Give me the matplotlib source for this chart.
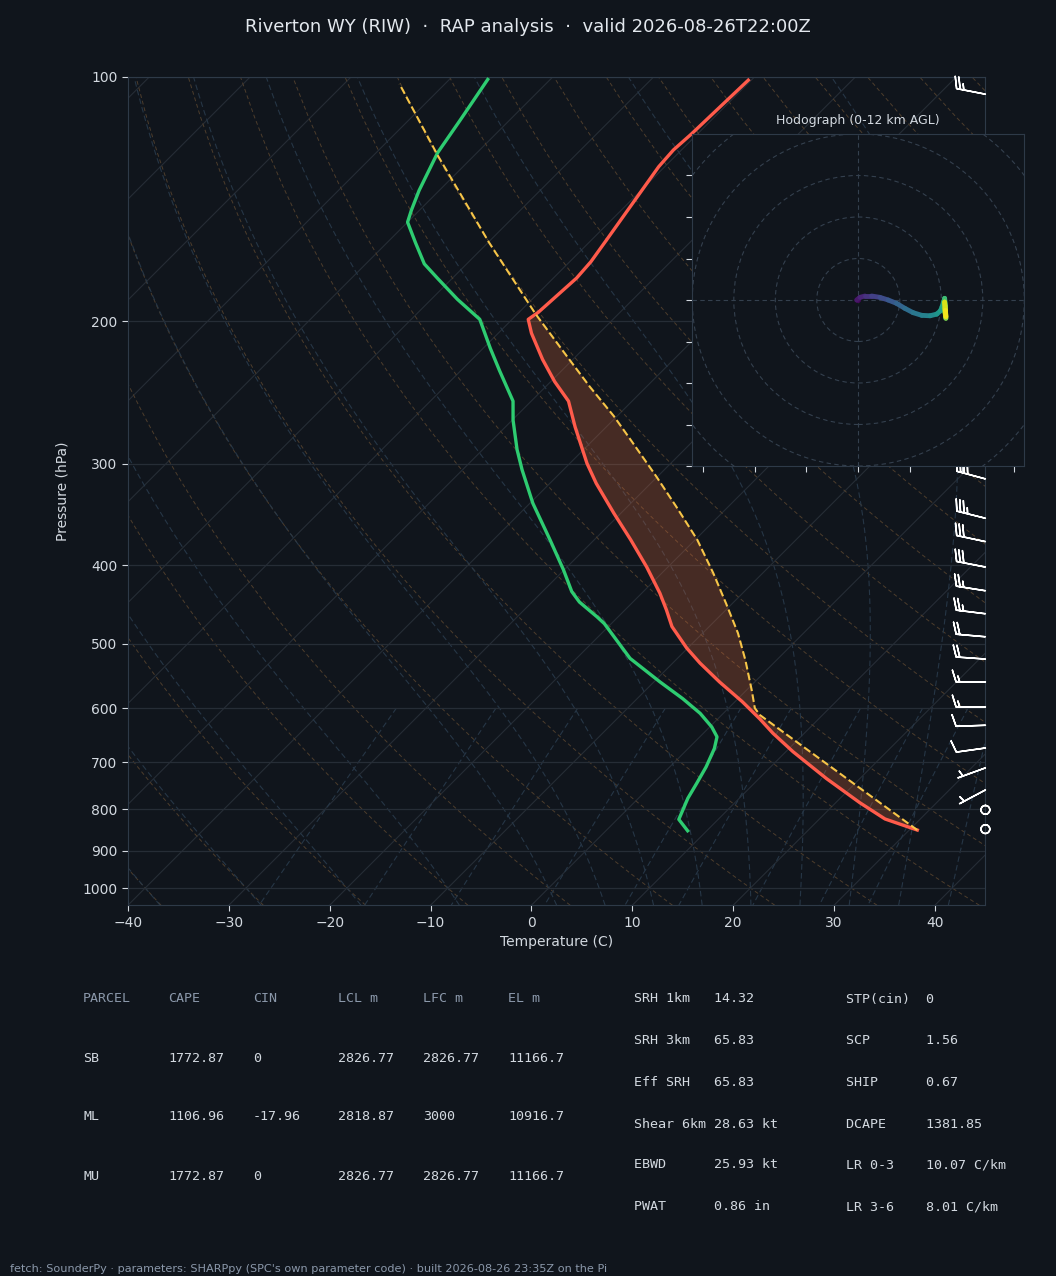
import numpy as np
import matplotlib
matplotlib.use("Agg")
import matplotlib.pyplot as plt
from matplotlib.collections import LineCollection
from matplotlib.ticker import ScalarFormatter, NullLocator, NullFormatter
from matplotlib import transforms
from matplotlib.patches import Circle

# ---------------- data ----------------
temp_p = [848.3, 822, 785, 733, 679, 644.5, 619, 589, 557, 528, 506, 476, 454, 433,
          402, 372, 345, 317, 299.5, 270, 251, 237.5, 223, 207, 199,
          195, 177, 169, 159, 142.5, 129, 123, 117.6, 100.9]
temp_t = [30.8, 26.5, 22.4, 16.7, 10.7, 6.9, 4.2, 0.7, -3.5, -7.3, -10.1, -13.7, -15.9, -18.2,
          -22.1, -26.4, -30.7, -35.4, -38.3, -43.1, -46.3, -49.6, -53.0, -56.7, -58.4,
          -58.1, -57.7, -57.9, -58.5, -59.6, -60.6, -60.8, -60.6, -60.3]

dew_p = [850, 823, 775, 743, 709, 673, 651, 633, 609, 584, 557, 521, 472, 463, 444, 431,
         405, 372, 335.5, 305, 288, 265, 251, 230, 216, 199, 188, 177, 170, 160, 151, 146,
         138, 124, 113, 100.7]
dew_t = [8.1, 6.1, 4.9, 4.3, 3.6, 2.6, 1.7, 0.2, -2.3, -5.5, -9.4, -14.7, -20.7, -22.1, -25.3, -27.1,
         -30.1, -34.4, -39.7, -44.1, -46.6, -49.9, -51.8, -56.2, -59.3, -63.2, -67.4, -71.5, -74.2, -77.2, -80.0, -80.8,
         -82.0, -83.9, -84.9, -86.2]

parcel_p = [848.3, 612, 600, 570, 523.5, 485, 446, 409, 372, 339, 311, 283, 262, 241, 221, 196, 160, 125, 102]
parcel_t = [30.8, 3.8, 2.6, 0.5, -3.1, -6.5, -10.6, -14.9, -19.8, -25.1, -30.1, -35.7, -40.3, -45.6, -50.9, -58.2, -69.9, -83.6, -94.5]

barb_p   = [846, 801, 757, 711, 672, 630, 598, 557, 522, 490, 459, 430, 402, 374, 350, 313, 105]
barb_spd = [0, 0, 5, 5, 10, 10, 15, 15, 20, 20, 25, 25, 30, 30, 35, 40, 25]
barb_dir = [0, 0, 242, 250, 262, 268, 270, 270, 274, 275, 277, 279, 281, 282, 284, 285, 281]

hodo_h = [0, 0.5, 1, 1.5, 2, 2.5, 3, 3.5, 4, 4.5, 5, 5.5, 6, 6.5, 7, 7.5, 8, 8.5, 9, 9.5, 10, 10.5, 11, 11.5, 12]
hodo_u = [0, -0.4, 0.4, 1.6, 3.2, 5.2, 7.2, 9.2, 11.2, 13.2, 15.3, 17.3, 18.9, 19.8, 20.2, 20.6,
          20.8, 21.0, 20.9, 21.1, 20.9, 21.0, 20.8, 21.1, 21.0]
hodo_v = [0, 0, 0.64, 0.96, 0.96, 0.64, 0, -0.8, -2.0, -3.05, -3.7, -3.8, -3.4, -2.6, -1.6, -0.4,
          0.4, -1.5, -3.0, -4.4, -2.0, -3.5, -0.5, -4.0, -2.5]

table_cols = ['PARCEL', 'CAPE', 'CIN', 'LCL m', 'LFC m', 'EL m']
table_rows = [['SB', '1772.87', '0', '2826.77', '2826.77', '11166.7'],
              ['ML', '1106.96', '-17.96', '2818.87', '3000', '10916.7'],
              ['MU', '1772.87', '0', '2826.77', '2826.77', '11166.7']]
params_left = [('SRH 1km', '14.32'), ('SRH 3km', '65.83'), ('Eff SRH', '65.83'),
               ('Shear 6km', '28.63 kt'), ('EBWD', '25.93 kt'), ('PWAT', '0.86 in')]
params_right = [('STP(cin)', '0'), ('SCP', '1.56'), ('SHIP', '0.67'),
                ('DCAPE', '1381.85'), ('LR 0-3', '10.07 C/km'), ('LR 3-6', '8.01 C/km')]

title = "Riverton WY (RIW)  \u00b7  RAP analysis  \u00b7  valid 2026-08-26T22:00Z"
footer = ("fetch: SounderPy \u00b7 parameters: SHARPpy (SPC's own parameter code) \u00b7 "
          "built 2026-08-26 23:35Z on the Pi")

# ---------------- style ----------------
BG = '#10151c'
SPINE = '#2e3a48'
GRID = '#262d36'
TXT = '#d3d9e0'
HDR = '#8b98aa'
DRY = '#4d3d2c'
MOIST = '#263646'
TCOL = '#ff5b4b'
DCOL = '#2ecc71'
PCOL = '#f7c548'

W, H = 1056, 1276
P_BOT, P_TOP = 1050.0, 100.0
fig = plt.figure(figsize=(W / 100, H / 100), dpi=100, facecolor=BG)

axL, axR, axT, axB = 128.0, 985.4, 77.0, 905.2
ax = fig.add_axes([axL / W, 1 - axB / H, (axR - axL) / W, (axB - axT) / H])
ax.set_facecolor(BG)
ax.set_yscale('log')
ax.set_ylim(P_BOT, P_TOP)
ax.set_xlim(-40, 45)
K = ((axB - axT) / np.log(P_BOT / P_TOP)) * 85.0 / (axR - axL)


def skew(t, p):
    return np.asarray(t, float) + K * np.log(P_BOT / np.asarray(p, float))


# isotherms
for t0 in range(-140, 50, 10):
    pp = np.array([P_BOT, P_TOP])
    ax.plot(skew([t0, t0], pp), pp, color=GRID, lw=0.8, zorder=1)

# dry adiabats
pgrid = np.linspace(P_BOT, P_TOP, 80)
for th in range(-40, 246, 10):
    tt = (th + 273.15) * (pgrid / 1000.0) ** 0.2857 - 273.15
    ax.plot(skew(tt, pgrid), pgrid, color=DRY, lw=0.7, ls=(0, (4, 3)), zorder=1)

# moist adiabats
Rd, Cp, Lv, eps = 287.04749, 1004.66, 2.50084e6, 0.622


def dtdp(T, pp):
    es = 6.112 * np.exp(17.67 * (T - 273.15) / (T - 29.65))
    rs = eps * es / (pp - es)
    return (Rd * T + Lv * rs) / (Cp + Lv * Lv * rs * eps / (Rd * T * T)) / pp


def integrate(T0, ps):
    out = [T0]
    T = T0
    for i in range(len(ps) - 1):
        p0, p1 = ps[i], ps[i + 1]
        h = p1 - p0
        k1 = dtdp(T, p0)
        k2 = dtdp(T + 0.5 * h * k1, p0 + 0.5 * h)
        k3 = dtdp(T + 0.5 * h * k2, p0 + 0.5 * h)
        k4 = dtdp(T + h * k3, p1)
        T = T + h / 6 * (k1 + 2 * k2 + 2 * k3 + k4)
        out.append(T)
    return np.array(out)


moist_t0 = np.concatenate((np.arange(-40, 0, 10), np.arange(0, 46, 5))).astype(float) + 273.15
p_up = np.linspace(1000, P_TOP, 200)
p_dn = np.linspace(1000, P_BOT, 12)
t_up = integrate(moist_t0, p_up)
t_dn = integrate(moist_t0, p_dn)
for j in range(len(moist_t0)):
    pp = np.concatenate((p_dn[::-1], p_up[1:]))
    tt = np.concatenate((t_dn[::-1, j], t_up[1:, j])) - 273.15
    ax.plot(skew(tt, pp), pp, color=MOIST, lw=0.8, ls=(0, (5, 3)), zorder=1)

# mixing ratio lines
pm = np.linspace(600, P_BOT, 30)
for w in [0.0004, 0.001, 0.002, 0.004, 0.007, 0.01, 0.016, 0.024, 0.032]:
    e = pm * w / (eps + w)
    ln = np.log(e / 6.112)
    td = 243.5 * ln / (17.67 - ln)
    ax.plot(skew(td, pm), pm, color=MOIST, lw=0.8, ls=(0, (5, 3)), zorder=1)

# isobars
ax.set_yticks(range(100, 1001, 100))
ax.yaxis.set_major_formatter(ScalarFormatter())
ax.yaxis.set_minor_locator(NullLocator())
ax.yaxis.set_minor_formatter(NullFormatter())
ax.grid(axis='y', color=GRID, lw=0.9, zorder=1)
ax.set_xticks(range(-40, 41, 10))

# CAPE shading
pf = np.exp(np.linspace(np.log(parcel_p[0]), np.log(196), 200))
lp_t = np.log(temp_p)[::-1]
lp_p = np.log(parcel_p)[::-1]
te = np.interp(np.log(pf), lp_t, np.array(temp_t)[::-1])
tp = np.interp(np.log(pf), lp_p, np.array(parcel_t)[::-1])
ax.fill_betweenx(pf, skew(te, pf), skew(tp, pf), where=tp >= te, color='#e86d3c',
                 alpha=0.25, lw=0, zorder=2)

# profiles
ax.plot(skew(temp_t, temp_p), temp_p, color=TCOL, lw=2.4, zorder=4)
ax.plot(skew(dew_t, dew_p), dew_p, color=DCOL, lw=2.4, zorder=4)
ax.plot(skew(parcel_t, parcel_p), parcel_p, color=PCOL, lw=1.5, ls='--', zorder=4)

# wind barbs
spd = np.array(barb_spd, float)
dr = np.deg2rad(barb_dir)
bu = -spd * np.sin(dr)
bv = -spd * np.cos(dr)
btrans = transforms.blended_transform_factory(ax.transAxes, ax.transData)
ax.barbs(np.ones(len(barb_p)), barb_p, bu, bv, transform=btrans, clip_on=False,
         color='white', length=6.5, linewidth=1.1, zorder=5)

# axes styling
for s in ax.spines.values():
    s.set_color(SPINE)
ax.tick_params(colors=TXT, labelsize=10, length=4, width=0.8)
ax.set_xlabel('Temperature (C)', color=TXT, fontsize=10, labelpad=4)
ax.set_ylabel('Pressure (hPa)', color=TXT, fontsize=10, labelpad=9)

# ---------------- hodograph inset ----------------
hx = fig.add_axes([692.3 / W, 1 - 466 / H, 332 / W, 332 / H])
hx.set_facecolor(BG)
hx.set_xlim(-40, 40)
hx.set_ylim(-40, 40)
for r in range(10, 61, 10):
    hx.add_patch(Circle((0, 0), r, fill=False, ec='#34404e', lw=0.8, ls=(0, (4, 3))))
hx.axhline(0, color='#34404e', lw=0.8, ls=(0, (4, 3)))
hx.axvline(0, color='#34404e', lw=0.8, ls=(0, (4, 3)))
hx.set_xticks(np.arange(-37.5, 38, 12.5))
hx.set_yticks(range(-40, 31, 10))
hx.set_xticklabels([])
hx.set_yticklabels([])
hx.tick_params(colors=TXT, length=4, width=0.8)
for s in hx.spines.values():
    s.set_color(SPINE)
pts = np.column_stack([hodo_u, hodo_v]).reshape(-1, 1, 2)
segs = np.concatenate([pts[:-1], pts[1:]], axis=1)
lc = LineCollection(segs, cmap='viridis', linewidths=3.5, capstyle='round')
lc.set_array(np.array(hodo_h[:-1], float) + 0.25)
lc.set_clim(0, 12)
hx.add_collection(lc)
hx.set_title('Hodograph (0-12 km AGL)', color=TXT, fontsize=9, pad=7)

# ---------------- title / tables / footer ----------------
fig.text(0.5, 1 - 27 / H, title, ha='center', va='center', fontsize=13, color='#e3e8ee')

mono = dict(family='DejaVu Sans Mono', fontsize=9.6, va='center')
col_x = [83, 168, 253, 338, 423, 508]
row_y = [999, 1058, 1117, 1176]
for cx, name in zip(col_x, table_cols):
    fig.text(cx / W, 1 - row_y[0] / H, name, color=HDR, **mono)
for ry, row in zip(row_y[1:], table_rows):
    for cx, val in zip(col_x, row):
        fig.text(cx / W, 1 - ry / H, val, color=TXT, **mono)

prow = [999, 1041, 1083, 1124, 1165, 1207]
for ry, (k, v) in zip(prow, params_left):
    fig.text(634 / W, 1 - ry / H, f"{k:<10}{v}", color=TXT, **mono)
for ry, (k, v) in zip(prow, params_right):
    fig.text(846 / W, 1 - ry / H, f"{k:<10}{v}", color=TXT, **mono)

fig.text(10 / W, 1 - 1269 / H, footer, ha='left', va='center', fontsize=8.15, color=HDR)

fig.savefig('out.png', dpi=100, facecolor=BG)
